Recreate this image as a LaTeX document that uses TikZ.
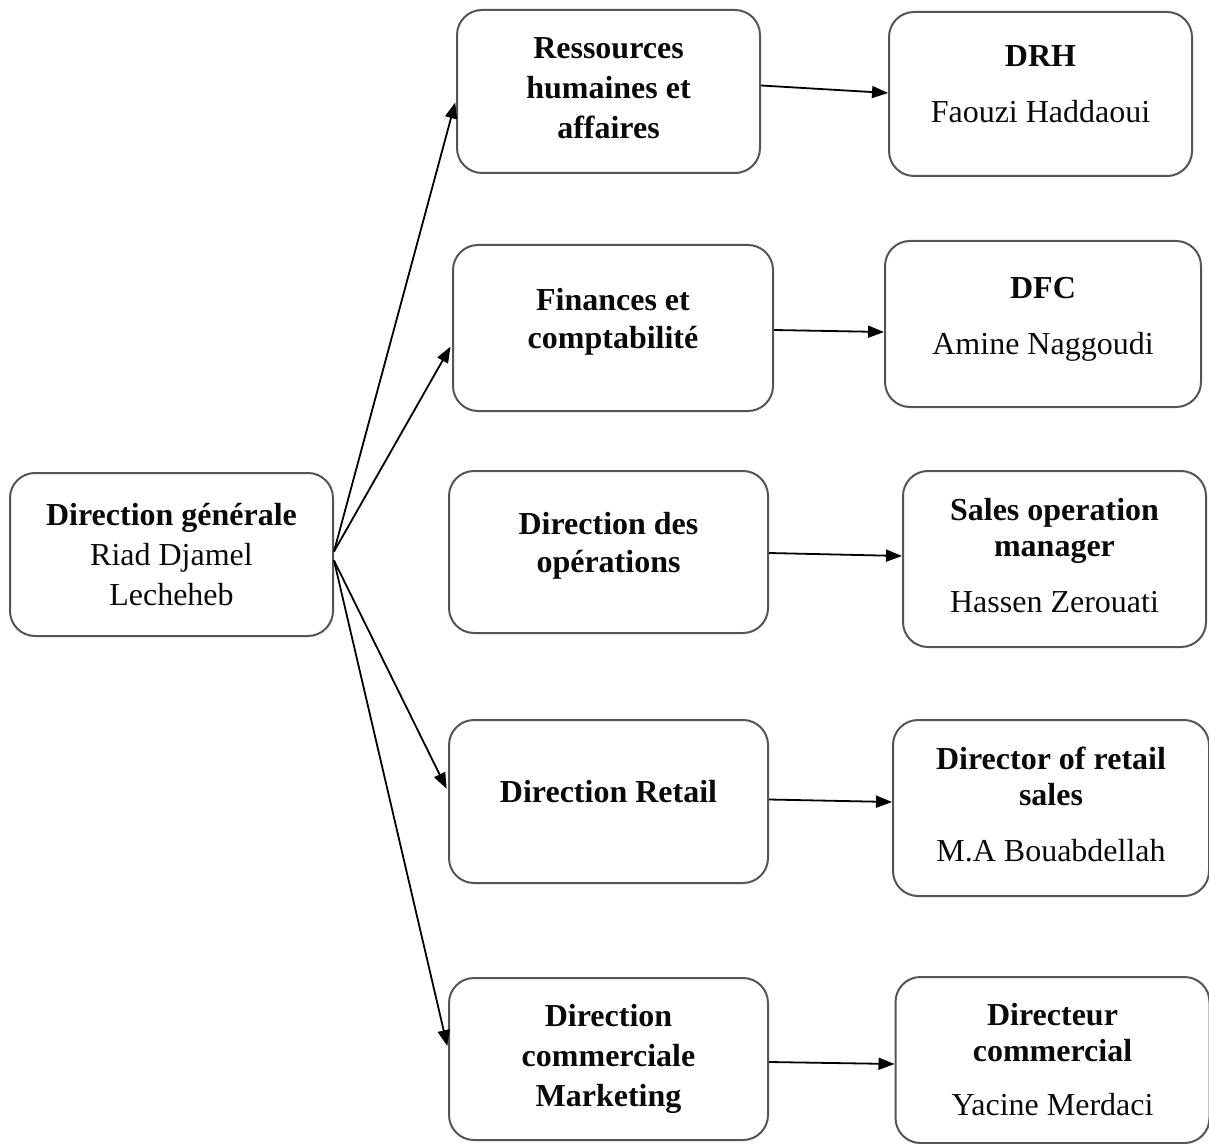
\documentclass[tikz,border=0pt]{standalone}
\usepackage{fontspec}
\setmainfont{Liberation Serif}
\usepackage{xcolor}
\definecolor{frame}{RGB}{85,85,85}
\definecolor{ink}{RGB}{10,10,10}
\usepackage{tikz}
\usetikzlibrary{arrows.meta,positioning}
\tikzset{
  unit/.style={draw=frame, line width=1pt, rounded corners=12.5pt,
    align=center, inner sep=0pt, text=ink,
    font=\fontsize{16}{19}\selectfont},
  link/.style={-{Triangle[length=8pt,width=6pt]}, line width=0.9pt,
    draw=black},
}

\begin{document}
\begin{tikzpicture}[x=0.5pt,y=-0.5pt]
  \useasboundingbox (0,0) rectangle (1209,1144);
  %% Direction générale
  \node[unit, minimum width=161.5pt, minimum height=81.5pt] (dg) at (171.5,554.5)
    {\textbf{Direction générale}\\[1pt]Riad Djamel\\[1pt]Lecheheb};
  %% Directions
  \node[unit, minimum width=151.5pt, minimum height=81.5pt] (rh) at (608.5,91.5)
    {\textbf{Ressources}\\[1pt]\textbf{humaines et}\\[1pt]\textbf{affaires}\\[-15.5pt]};
  \node[unit, minimum width=160pt, minimum height=83pt] (fc) at (613,328)
    {\textbf{Finances et}\\\textbf{comptabilité}\\[-9pt]};
  \node[unit, minimum width=159.5pt, minimum height=81pt] (do) at (608.5,552)
    {\textbf{Direction des}\\\textbf{opérations}\\[-9pt]};
  \node[unit, minimum width=159.5pt, minimum height=81.5pt] (dr) at (608.5,801.5)
    {\textbf{Direction Retail}\\[-9pt]};
  \node[unit, minimum width=159.5pt, minimum height=81pt] (dcm) at (608.5,1059)
    {\textbf{Direction}\\[1pt]\textbf{commerciale}\\[1pt]\textbf{Marketing}};
  %% Responsables
  \node[unit, minimum width=151.5pt, minimum height=82pt] (drh) at (1040.5,94)
    {\textbf{DRH}\\[9pt]Faouzi Haddaoui\\[-9pt]};
  \node[unit, minimum width=158pt, minimum height=83pt] (dfc) at (1043,324)
    {\textbf{DFC}\\[9pt]Amine Naggoudi\\[-11pt]};
  \node[unit, minimum width=151.5pt, minimum height=88pt] (som) at (1054.5,559)
    {\textbf{Sales operation}\\[-1pt]\textbf{manager}\\[9pt]Hassen Zerouati\\[-15pt]};
  \node[unit, minimum width=158pt, minimum height=88pt] (drs) at (1051,808)
    {\textbf{Director of retail}\\[-1pt]\textbf{sales}\\[9pt]M.A Bouabdellah\\[-15pt]};
  \node[unit, minimum width=157pt, minimum height=83pt] (dco) at (1052.5,1060)
    {\textbf{Directeur}\\[-1pt]\textbf{commercial}\\[8pt]Yacine Merdaci};
  %% Liaisons
  \draw[link, shorten >=1.5pt] ([yshift=1.5pt]dg.east) -- ([yshift=-4pt]rh.west);
  \draw[link, shorten >=1.5pt] ([yshift=1.5pt]dg.east) -- ([yshift=-8pt]fc.west);
  \draw[link, shorten >=1.5pt] ([yshift=-3pt]dg.east) -- ([yshift=5pt]dr.west);
  \draw[link, shorten >=1.5pt] ([yshift=-3pt]dg.east) -- ([yshift=5pt]dcm.west);
  \draw[link] ([yshift=3pt]rh.east) -- ([yshift=0.5pt]drh.west);
  \draw[link] ([yshift=-1pt]fc.east) -- ([yshift=-4pt]dfc.west);
  \draw[link] ([yshift=-0.5pt]do.east) -- ([yshift=1.5pt]som.west);
  \draw[link] ([yshift=1pt]dr.east) -- ([yshift=3pt]drs.west);
  \draw[link] ([yshift=-1.5pt]dcm.east) -- ([yshift=-2pt]dco.west);
\end{tikzpicture}
\end{document}
